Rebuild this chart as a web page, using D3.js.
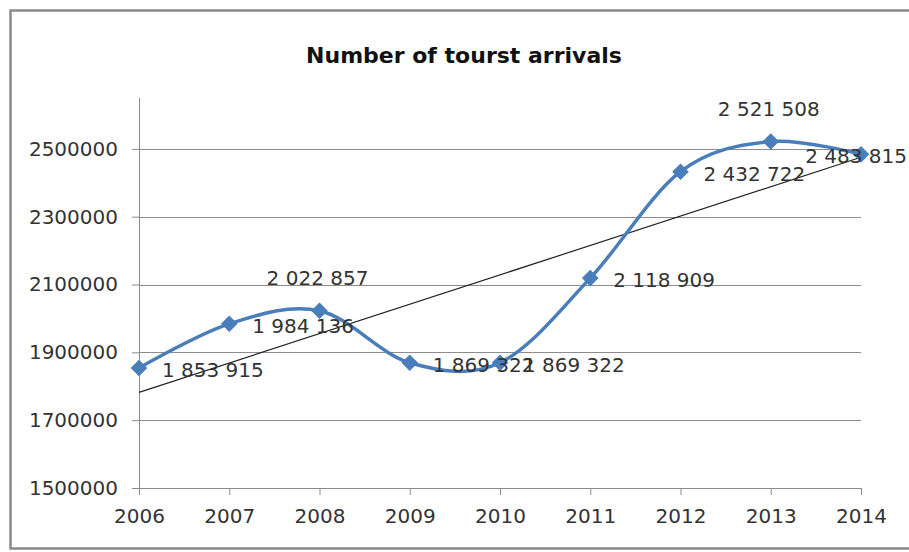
<!DOCTYPE html>
<html>
<head>
<meta charset="utf-8">
<script src="https://cdn.jsdelivr.net/npm/d3@7"></script>
<style>
  html, body { margin: 0; background: #fff; overflow: hidden; }
  svg { display: block; font-family: "DejaVu Sans", sans-serif; }
</style>
</head>
<body>
<svg class="chart"></svg>
<script>
// data
var years = ["2006", "2007", "2008", "2009", "2010", "2011", "2012", "2013", "2014"];
var arrivals = [1853915, 1984136, 2022857, 1869322, 1869322, 2118909, 2432722, 2521508, 2483815];
var yTicks = [1500000, 1700000, 1900000, 2100000, 2300000, 2500000];
var yMax = 2650000;

var W = 909, H = 552;
var margin = {top: 98, right: 48, bottom: 64, left: 139};
var width = W - margin.left - margin.right;
var height = H - margin.top - margin.bottom;

var svg = d3.select(".chart")
    .attr("width", W)
    .attr("height", H);

//outer frame (right side runs off the picture)
svg.append("rect")
    .attr("x", 10.5).attr("y", 10.5)
    .attr("width", W + 100).attr("height", 538)
    .attr("fill", "#fff")
    .attr("stroke", "#8a8a8a")
    .attr("stroke-width", 2.5);

//title
svg.append("text")
    .attr("x", 464)
    .attr("y", 63)
    .attr("text-anchor", "middle")
    .attr("font-size", 22)
    .attr("font-weight", "bold")
    .attr("fill", "#111")
    .text("Number of tourst arrivals");

var chart = svg.append("g")
    .attr("transform", "translate(" + margin.left + "," + margin.top + ")");

var x = d3.scalePoint().domain(years).range([0, width]);
var y = d3.scaleLinear().domain([yTicks[0], yMax]).range([height, 0]);

//gridlines
chart.append("g")
    .selectAll("line")
    .data(yTicks)
    .enter().append("line")
    .attr("x1", 0).attr("x2", width)
    .attr("y1", function(d){ return Math.round(y(d)) + 0.5; })
    .attr("y2", function(d){ return Math.round(y(d)) + 0.5; })
    .attr("stroke", "#8c8c8c")
    .attr("stroke-width", 1);

//left axis
var yAxis = d3.axisLeft(y).tickValues(yTicks).tickSize(7).tickPadding(14).tickFormat(d3.format("d"));
var gy = chart.append("g").call(yAxis);
gy.select(".domain").attr("stroke", "#8c8c8c").attr("d", "M0.5,0V" + height);
gy.selectAll(".tick line").attr("stroke", "#8c8c8c");
gy.selectAll("text").attr("font-size", 20).attr("fill", "#333").attr("font-family", "DejaVu Sans");

//bottom axis
var xAxis = d3.axisBottom(x).tickSize(7).tickPadding(14);
var gx = chart.append("g")
    .attr("transform", "translate(0," + height + ")")
    .call(xAxis);
gx.select(".domain").attr("stroke", "#8c8c8c").attr("d", "M0,0.5H" + width);
gx.selectAll(".tick line").attr("stroke", "#8c8c8c");
gx.selectAll("text").attr("font-size", 20).attr("fill", "#333").attr("font-family", "DejaVu Sans");

//linear trendline (least squares on the series)
var n = arrivals.length;
var mx = d3.mean(d3.range(n));
var my = d3.mean(arrivals);
var sxy = d3.sum(arrivals, function(v, i){ return (i - mx) * (v - my); });
var sxx = d3.sum(d3.range(n), function(i){ return (i - mx) * (i - mx); });
var slope = sxy / sxx;
var icpt = my - slope * mx;

chart.append("line")
    .attr("x1", x(years[0]))
    .attr("y1", y(icpt))
    .attr("x2", x(years[n - 1]))
    .attr("y2", y(icpt + slope * (n - 1)))
    .attr("stroke", "#222")
    .attr("stroke-width", 1.2);

//smoothed series line
var line = d3.line()
    .x(function(d, i){ return x(years[i]); })
    .y(function(d){ return y(d); })
    .curve(d3.curveCardinal.tension(0));

chart.append("path")
    .datum(arrivals)
    .attr("d", line)
    .attr("fill", "none")
    .attr("stroke", "#4a7ebb")
    .attr("stroke-width", 3.5);

//diamond markers
chart.selectAll(".marker")
    .data(arrivals)
    .enter().append("path")
    .attr("class", "marker")
    .attr("d", d3.symbol().type(d3.symbolSquare).size(115))
    .attr("transform", function(d, i){ return "translate(" + x(years[i]) + "," + y(d) + ") rotate(45)"; })
    .attr("fill", "#4a7ebb")
    .attr("stroke", "#4a7ebb")
    .attr("stroke-width", 1);

//data labels
var above = ["2008", "2013"];
var fmt = function(v){ return d3.format(",")(v).replace(/,/g, " "); };
var rightLimit = W - margin.left - 2;

chart.selectAll(".lbl")
    .data(arrivals)
    .enter().append("text")
    .attr("class", "lbl")
    .attr("dy", "0.35em")
    .attr("font-size", 20)
    .attr("fill", "#333")
    .text(function(d){ return fmt(d); })
    .each(function(d, i){
        var t = d3.select(this);
        if (above.indexOf(years[i]) >= 0) {
            t.attr("x", x(years[i]) - 2)
             .attr("y", y(d) - 33)
             .attr("text-anchor", "middle");
        } else {
            //keep the label inside the frame like Excel does
            var w = this.getComputedTextLength();
            var lx = Math.min(x(years[i]) + 23, rightLimit - w);
            t.attr("x", lx)
             .attr("y", y(d) + 2)
             .attr("text-anchor", "start");
        }
    });
</script>
</body>
</html>
